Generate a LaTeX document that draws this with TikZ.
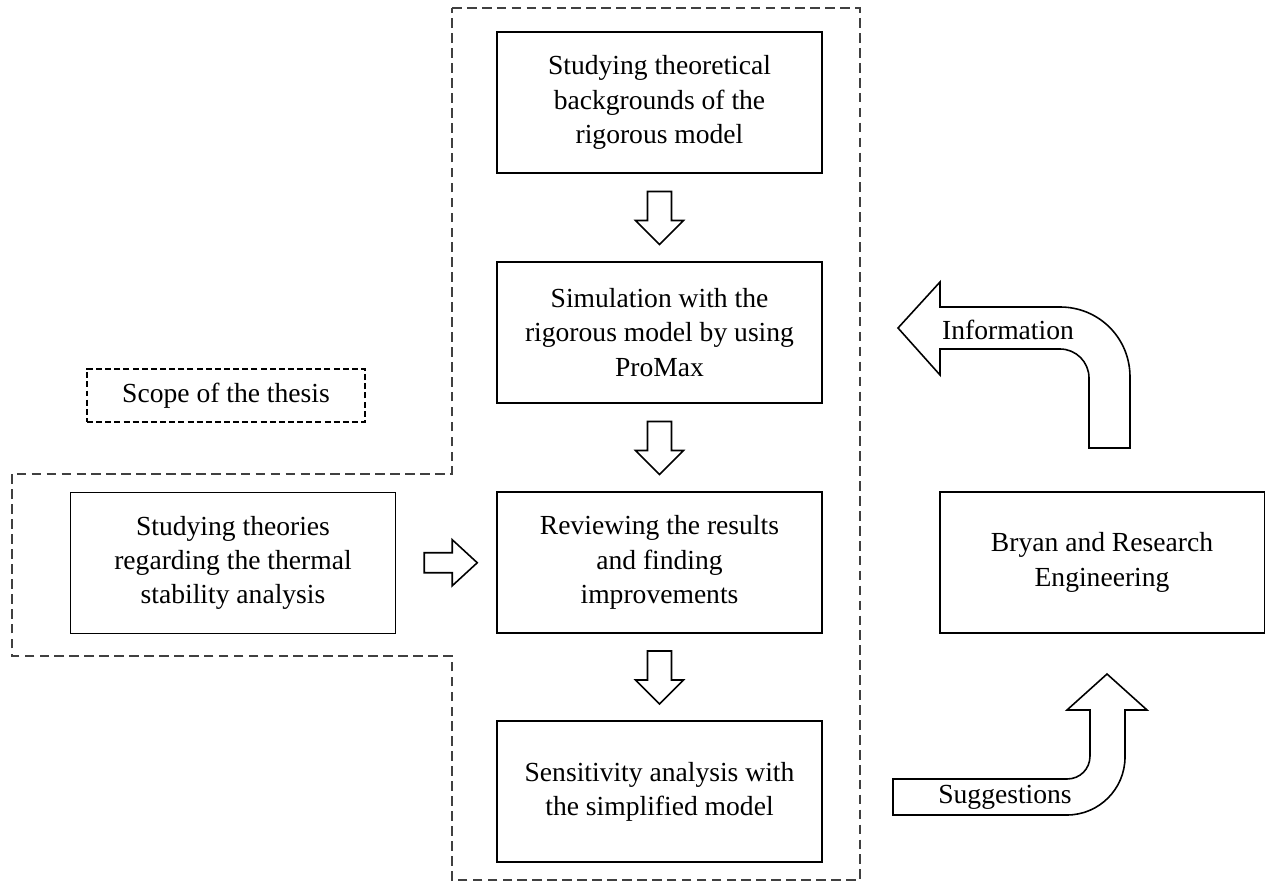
\documentclass[tikz,border=0pt]{standalone}
\usepackage{fontspec}
\setmainfont{Liberation Serif}
\usetikzlibrary{calc}
\tikzset{
	stepbox/.style={draw, line width=1.1pt, minimum width=6.5cm, minimum height=2.82cm, inner sep=0pt, align=center},
	blk/.style={draw, line width=0.9pt, fill=white, line join=miter},
	scopeline/.style={draw=black!75, line width=0.6pt, dash pattern=on 5.5pt off 3pt}
}

\begin{document}
\begin{tikzpicture}[x=0.02cm, y=-0.02cm, font=\fontsize{15.7pt}{19.5pt}\selectfont]
			%%%%% START %%%%%
			\useasboundingbox (0, 0) rectangle (1270, 884);
			
			\draw[scopeline] (452, 8) -- (860, 8) -- (860, 880) -- (452, 880) -- (452, 656) -- (12, 656) -- (12, 474) -- (452, 474) -- cycle;
			
			\node[draw, line width=1.1pt, dash pattern=on 3.4pt off 1.8pt, minimum width=5.56cm, minimum height=1.06cm, inner sep=0pt] (scope) at (226, 395.5) {Scope of the thesis};
			
			\node[stepbox] (theory) at (659.5, 102.5) {Studying theoretical\\backgrounds of the\\rigorous model};
			\node[stepbox] (simul) at (659.5, 332.5) {Simulation with the\\rigorous model by using\\ProMax};
			\node[stepbox] (review) at (659.5, 562.5) {Reviewing the results\\and finding\\improvements};
			\node[stepbox] (sensit) at (659.5, 791.5) {Sensitivity analysis with\\the simplified model};
			
			\node[stepbox] (thermal) at (233, 563) {Studying theories\\regarding the thermal\\stability analysis};
			\node[stepbox] (bryan) at (1102, 562.5) {Bryan and Research\\Engineering};
			
			\foreach \a/\b in {theory/simul, simul/review, review/sensit}
				\draw[blk, shift={($(\a.south)!0.5!(\b.north)$)}] (-12, -26) -- (12, -26) -- (12, 3) -- (24, 3) -- (0, 27) -- (-24, 3) -- (-12, 3) -- cycle;
			
			\draw[blk, shift={($(thermal.east)!0.5!(review.west)$)}] (-22, -10) -- (6, -10) -- (6, -23) -- (31, 0) -- (6, 23) -- (6, 10) -- (-22, 10) -- cycle;
			
			\draw[blk] (898, 328) -- (940, 282) -- (940, 307) -- (1060, 307) .. controls (1099, 307) and (1130, 338) .. (1130, 377) -- (1130, 448) -- (1089, 448) -- (1089, 378) .. controls (1089, 362) and (1076, 349) .. (1060, 349) -- (940, 349) -- (940, 375) -- cycle;
			\node (info) at (1008, 330) {Information};
			
			\draw[blk] (893, 779) -- (1067, 779) .. controls (1080, 779) and (1090, 769) .. (1090, 756) -- (1090, 710) -- (1067, 710) -- (1107, 674) -- (1147, 710) -- (1125, 710) -- (1125, 757) .. controls (1125, 789) and (1099, 815) .. (1067, 815) -- (893, 815) -- cycle;
			\node (sugg) at (1005, 797) {Suggestions};
			
			%%%%% END %%%%%
\end{tikzpicture}
\end{document}
